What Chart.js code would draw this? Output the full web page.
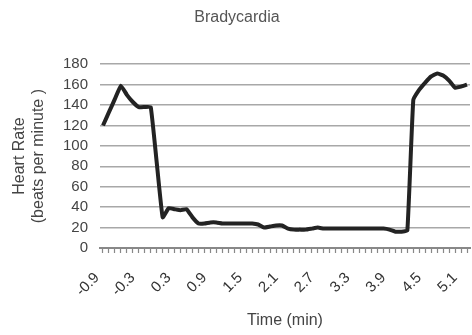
<!DOCTYPE html>
<html>
<head>
<meta charset="utf-8">
<script src="https://cdn.jsdelivr.net/npm/chart.js@4/dist/chart.umd.min.js"></script>
<style>
    html, body { margin: 0; padding: 0; background: #fff; }
    #wrap { width: 472px; height: 335px; }
</style>
</head>
<body>
<div id="wrap"><canvas id="hrChart" width="472" height="335"></canvas></div>
<script>
// time points, every 0.1 min from -0.9 to 5.2
const times = [];
for (let i = -9; i <= 52; i++) times.push((i / 10).toFixed(1));

// heart rate in beats per minute
const heartRate = [
    120, 133, 146, 159, 150, 143, 138, 138, 138, 84,
    30, 39, 38, 37, 38, 30, 24, 24, 25, 25,
    24, 24, 24, 24, 24, 24, 23, 20, 21, 22,
    22, 19, 18, 18, 18, 19, 20, 19, 19, 19,
    19, 19, 19, 19, 19, 19, 19, 19, 18, 16,
    16, 17, 145, 155, 162, 168, 171, 169, 164, 157,
    158, 160
];

const yTicks = [0, 20, 40, 60, 80, 100, 120, 140, 160, 180];
const labelEvery = 6;

const fontFamily = '"Liberation Sans", Arial, sans-serif';

const ctx = document.getElementById('hrChart');
new Chart(ctx, {
    type: 'line',
    data: {
        labels: times,
        datasets: [{
            label: 'Heart Rate',
            data: heartRate,
            borderColor: '#232323',
            borderWidth: 4,
            tension: 0.1,
            pointRadius: 0,
            fill: false
        }]
    },
    options: {
        responsive: false,
        animation: false,
        layout: { padding: { top: 8, right: 2, bottom: 0, left: 4 } },
        plugins: {
            legend: { display: false },
            tooltip: { enabled: false },
            title: {
                display: true,
                text: 'Bradycardia',
                color: '#555',
                font: { family: fontFamily, size: 16, weight: 'normal' },
                padding: { top: 0, bottom: 37 }
            }
        },
        scales: {
            x: {
                offset: true,
                afterFit: function(axis) {
                    // fixed band under the plot, no extra side room for rotated labels
                    axis.height = 87;
                    axis.paddingLeft = 0;
                    axis.paddingRight = 0;
                },
                grid: {
                    display: true,
                    drawOnChartArea: false,
                    drawTicks: true,
                    tickLength: 5,
                    tickColor: '#888',
                    tickWidth: 1.2
                },
                border: { display: true, color: '#888', width: 2 },
                ticks: {
                    autoSkip: false,
                    minRotation: 45,
                    maxRotation: 45,
                    color: '#333',
                    font: { family: fontFamily, size: 15 },
                    padding: 16,
                    labelOffset: -6,
                    callback: function(value, index) {
                        return index % labelEvery === 0 ? times[index] : '';
                    }
                },
                title: {
                    display: true,
                    text: 'Time (min)',
                    color: '#444',
                    font: { family: fontFamily, size: 16 },
                    padding: { top: 0, bottom: 5 }
                }
            },
            y: {
                min: 0,
                max: 180,
                afterFit: function(axis) { axis.width = 96; },
                afterBuildTicks: function(axis) {
                    axis.ticks = yTicks.map(v => ({ value: v }));
                },
                grid: {
                    color: '#a8a8a8',
                    lineWidth: 1.6,
                    drawTicks: false
                },
                border: { display: false },
                ticks: {
                    autoSkip: false,
                    color: '#444',
                    font: { family: fontFamily, size: 15 },
                    padding: 12
                },
                title: {
                    display: true,
                    text: ['Heart Rate', '(beats per minute )'],
                    color: '#444',
                    font: { family: fontFamily, size: 16 },
                    padding: { top: 6, bottom: 0 }
                }
            }
        }
    }
});
</script>
</body>
</html>
